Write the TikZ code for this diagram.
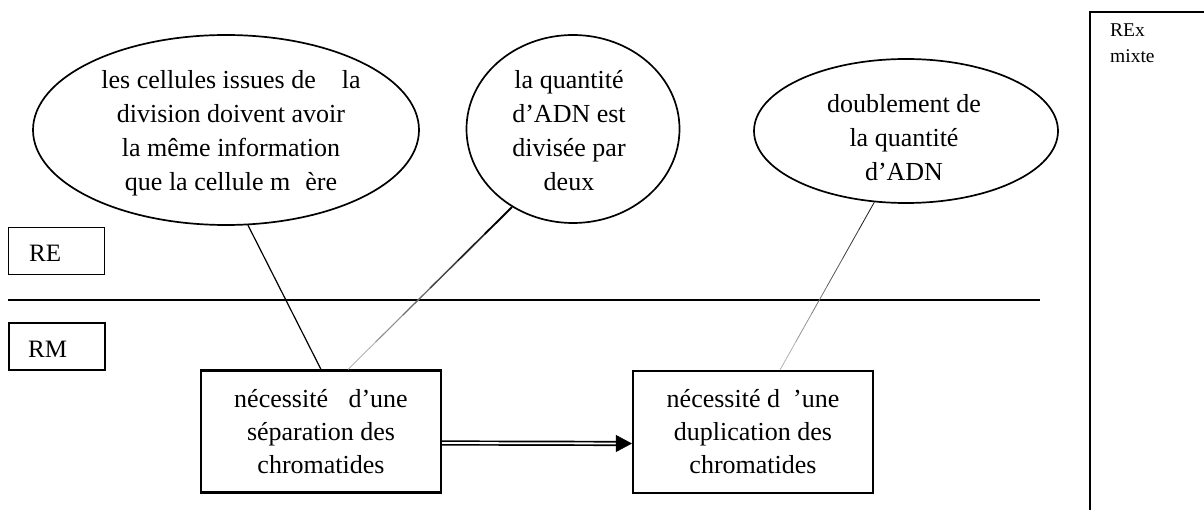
\documentclass[tikz,border=0pt]{standalone}
\usepackage{fontspec}
\setmainfont{Liberation Serif}
\usetikzlibrary{shapes.geometric,arrows.meta,calc}
\begin{document}
\begin{tikzpicture}[x=1pt,y=-1pt,
  bubble/.style={draw,ellipse,line width=1.7pt,inner sep=0pt},
  txt/.style={align=center,font=\fontsize{26}{34}\selectfont,inner sep=0pt},
  boxnode/.style={draw,line width=2.2pt,inner sep=0pt,align=center,font=\fontsize{26}{33}\selectfont,minimum width=240pt,minimum height=122pt},
  labbox/.style={draw,line width=1.9pt,inner sep=0pt,minimum width=96pt,minimum height=47pt},
  labtxt/.style={inner sep=0pt,font=\fontsize{25}{30}\selectfont},
  link/.style={line width=1.2pt}]
\useasboundingbox (0,0) rectangle (1204,510);

% ellipses
\node[bubble,minimum width=386pt,minimum height=190pt] (e1) at (226,130) {};
\node[txt] (t1) at (231,133) {les cellules issues de\hspace{26pt}la\\division doivent avoir\\la même information\\que la cellule m\hspace{15pt}ère};
\node[bubble,minimum width=213pt,minimum height=188pt] (e2) at (573,129) {};
\node[txt] (t2) at (569,131) {la quantité\\d’ADN est\\divisée par\\deux};
\node[bubble,minimum width=304pt,minimum height=144pt] (e3) at (906,131) {};
\node[txt] (t3) at (904,138) {doublement de\\la quantité\\d’ADN};

% level labels
\node[labbox] (re) at (56.5,251) {};
\node[labtxt,anchor=west] (ret) at (29,253.5) {RE};
\node[labbox] (rm) at (57,346.5) {};
\node[labtxt,anchor=west] (rmt) at (28,349.5) {RM};

% separator
\coordinate (sepL) at (8,300);
\coordinate (sepR) at (1040,300);
\draw[line width=1.8pt] (sepL) -- (sepR);

% boxes
\node[boxnode] (b1) at (321,431.5) {nécessité\hspace{14pt} d’une\\séparation des\\chromatides};
\node[boxnode] (b2) at (753,432) {nécessité d\hspace{13pt}’une\\duplication des\\chromatides};

% double arrow
\coordinate (a1) at ([yshift=-11.5pt]b1.east);
\coordinate (a2) at ([yshift=-11.5pt]b2.west);
\draw[line width=1.7pt,double distance=1.8pt,shorten >=14pt] (a1) -- (a2);
\draw[line width=0.5pt,-{Triangle[length=16pt,width=17pt]}] ([xshift=-16pt]a2) -- (a2);

% connectors
\draw[link] (e1.-77) -- (b1.north);
\coordinate (p2) at (e2.-128.7);
\coordinate (q2) at ([xshift=27pt]b1.north);
\foreach \k in {0,...,5}{
  \pgfmathsetmacro\ta{\k/6}
  \pgfmathsetmacro\tb{(\k+1)/6}
  \pgfmathtruncatemacro\lv{100-\k*14}
  \pgfmathsetmacro\lw{1.9-\k*0.2}
  \draw[line width=\lw pt,black!\lv] ($(p2)!\ta!(q2)$) -- ($(p2)!\tb!(q2)$);
}
\coordinate (p3) at (e3.-114);
\coordinate (q3) at ([xshift=27pt]b2.north);
\foreach \k in {0,...,5}{
  \pgfmathsetmacro\ta{\k/6}
  \pgfmathsetmacro\tb{(\k+1)/6}
  \pgfmathtruncatemacro\lv{90-\k*12}
  \draw[line width=0.8pt,black!\lv] ($(p3)!\ta!(q3)$) -- ($(p3)!\tb!(q3)$);
}

% REx mixte column
\coordinate (xa) at (1204,12);
\coordinate (xb) at (1090,12);
\coordinate (xc) at (1090,510);
\draw[line width=1.9pt] (xa) -- (xb) -- (xc);
\node[inner sep=0pt,align=left,anchor=north west,font=\fontsize{19.5}{26}\selectfont] (rex) at (1110,24) {REx\\mixte};
\end{tikzpicture}
\end{document}
